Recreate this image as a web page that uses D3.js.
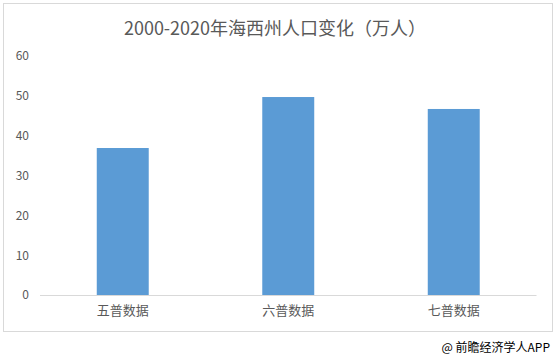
<!DOCTYPE html>
<html><head><meta charset="utf-8">
<script src="https://cdn.jsdelivr.net/npm/d3@7"></script>
<style>body{margin:0;background:#fff}svg{display:block}</style>
</head><body>
<svg id="c" width="557" height="360"></svg>
<script>
const categories = ["五普数据", "六普数据", "七普数据"];
const values = [36.9, 49.7, 46.7];
const yTicks = [0, 10, 20, 30, 40, 50, 60];
const title = "2000-2020年海西州人口变化（万人）";
const source = "@ 前瞻经济学人APP";

const font = "'Noto Sans CJK SC', 'Noto Sans', sans-serif";
const svg = d3.select("#c");
svg.append("rect").attr("x", 3.5).attr("y", 3.5).attr("width", 549).attr("height", 328)
  .attr("fill", "#fff").attr("stroke", "#d9d9d9").attr("stroke-width", 1);

const x = d3.scaleBand().domain(categories).range([40, 536.5]).paddingInner(0.686).paddingOuter(0.343);
const y = d3.scaleLinear().domain([0, 60]).range([295, 56]);

svg.append("text").attr("x", 275).attr("y", 35).attr("text-anchor", "middle")
  .attr("font-family", font).attr("font-size", 18).attr("fill", "#595959").text(title);

const ya = svg.append("g").attr("transform", "translate(29,0)")
  .call(d3.axisLeft(y).tickValues(yTicks).tickSize(0).tickPadding(0));
ya.select(".domain").remove();
ya.selectAll("text").attr("font-family", font).attr("font-size", 12).attr("fill", "#595959");

svg.selectAll(".bar").data(values).join("rect").attr("class", "bar")
  .attr("x", (d, i) => x(categories[i])).attr("width", x.bandwidth())
  .attr("y", d => y(d)).attr("height", d => y(0) - y(d)).attr("fill", "#5b9bd5");

const xa = svg.append("g").attr("transform", `translate(0,${y(0)})`)
  .call(d3.axisBottom(x).tickSize(0).tickPadding(11));
xa.select(".domain").attr("stroke", "#d9d9d9").attr("d", "M40,0.5H536.5");
xa.selectAll("text").attr("font-family", font).attr("font-size", 13).attr("fill", "#595959");

svg.append("text").attr("x", 550).attr("y", 352).attr("text-anchor", "end")
  .attr("font-family", font).attr("font-size", 12).attr("fill", "#000").text(source);
</script>
</body></html>
